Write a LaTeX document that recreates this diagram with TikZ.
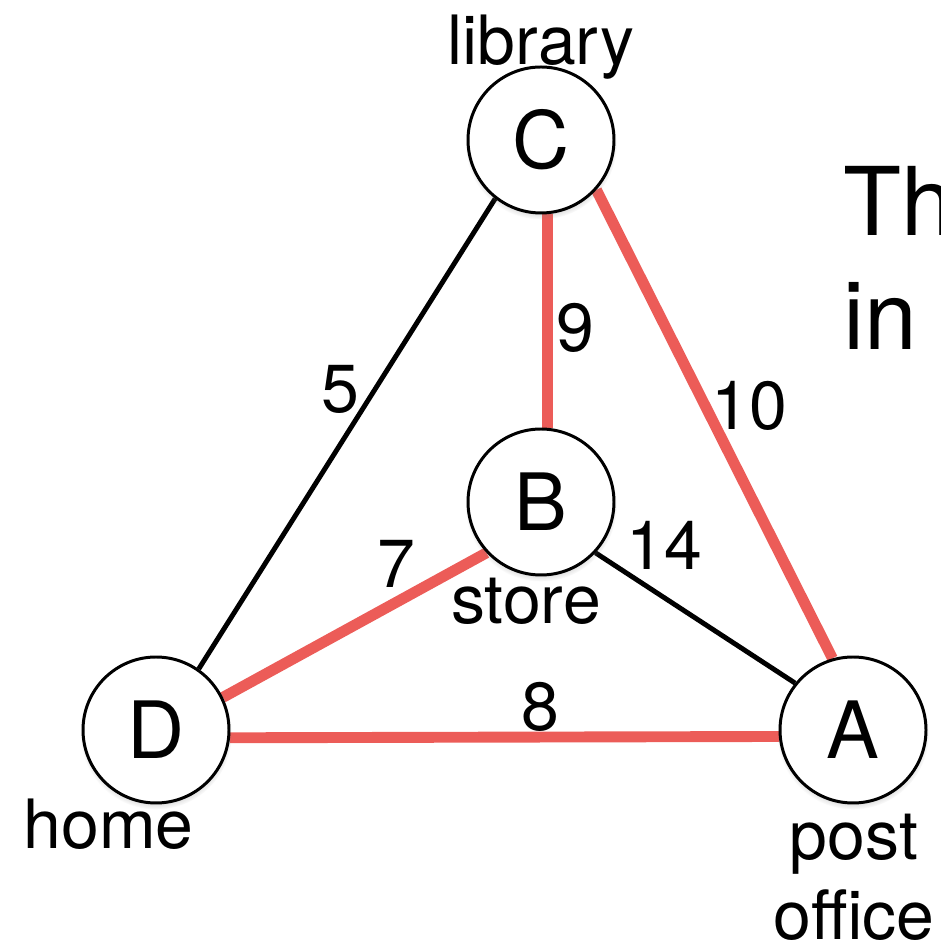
\documentclass[tikz,border=0pt]{standalone}
\usepackage{fontspec}
\setmainfont{TeX Gyre Heros}
\usetikzlibrary{positioning, shadows, backgrounds}
\definecolor{hlred}{RGB}{236,92,88}
\colorlet{ink}{black}
\tikzset{
  town/.style   ={circle, draw=ink, fill=white, line width=1.7pt,
                  minimum size=2.92cm, inner sep=0pt,
                  font=\fontsize{45}{54}\selectfont,
                  circular drop shadow={shadow xshift=0pt, shadow yshift=-0.07cm,
                                        shadow scale=1.04, opacity=0.45}},
  place/.style  ={font=\fontsize{38.7}{45.5}\selectfont, align=center,
                  anchor=base, inner sep=0pt},
  weight/.style ={font=\fontsize{38.7}{45.5}\selectfont, anchor=base,
                  inner sep=0pt},
  road/.style   ={-, ink, line width=2.8pt},
  mst/.style    ={-, hlred, line width=6.2pt},
}

\begin{document}
\begin{tikzpicture}
\useasboundingbox (0,0) rectangle (18.82,18.9);

\node[town] (C) at (10.82, 16.1) {C};
\node[town] (B) at (10.82, 8.86) {B};
\node[town] (D) at ( 3.12, 4.3)  {D};
\node[town] (A) at (17.06, 4.3)  {A};

% place names (base = last line)
\node[place] (lib)   at (10.82, 17.6) {library};
\node[place] (store) at (10.52, 6.42) {store};
\node[place] (home)  at ( 2.17, 1.92) {home};
\node[place] (post)  at (17.08, 0.12) {post\\office};

% roads, spanning tree in red
\begin{scope}[on background layer]
  \draw[road] (C.-128) -- (D.55);
  \draw[road] (B.-43)  -- (A.141);
  \draw[mst]  (C.-85)  -- (B.85);
  \draw[mst]  (C.-42)  -- (A.106);
  \draw[mst]  (D.26)   -- (B.-137);
  \draw[mst]  (D.-6)   -- (A.-175);
\end{scope}

% edge weights
\node[weight] (w5)  at ( 6.80, 10.64) {5};
\node[weight] (w9)  at (11.50, 11.86) {9};
\node[weight] (w10) at (14.98, 10.30) {10};
\node[weight] (w7)  at ( 7.92,  7.14) {7};
\node[weight] (w14) at (13.28,  7.50) {14};
\node[weight] (w8)  at (10.80,  4.28) {8};

\node[font=\fontsize{54}{65.4}\selectfont, align=left, anchor=base west,
      inner sep=0pt] (note) at (16.86, 11.9) {Th\\in};

\end{tikzpicture}
\end{document}
